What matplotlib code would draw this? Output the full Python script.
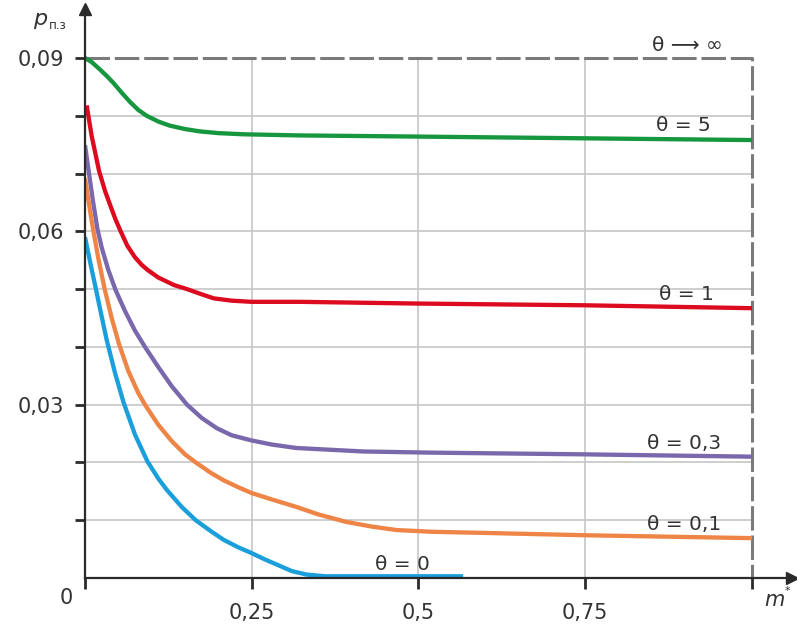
import numpy as np
import matplotlib
matplotlib.use("Agg")
import matplotlib.pyplot as plt

plt.rcParams['font.family'] = ['DejaVu Sans']

# curves: m* -> p_п.з
m_green = [0, 0.01, 0.0225, 0.0325, 0.0425, 0.055, 0.0675, 0.08, 0.0925, 0.11, 0.127, 0.15, 0.172,
           0.2, 0.237, 0.322, 0.5, 0.75, 1.0]
p_green = [0.0900, 0.0893, 0.0880, 0.0869, 0.0857, 0.0840, 0.0824, 0.0810, 0.0800, 0.0790, 0.0783,
           0.0777, 0.0773, 0.0770, 0.0768, 0.0766, 0.0764, 0.0761, 0.0758]

m_red = [0.0025, 0.01, 0.021, 0.03, 0.0385, 0.046, 0.0535, 0.0635, 0.075, 0.085, 0.094, 0.11, 0.1335,
         0.153, 0.175, 0.193, 0.22, 0.25, 0.322, 0.5, 0.75, 1.0]
p_red = [0.0818, 0.0765, 0.0705, 0.0670, 0.0643, 0.0620, 0.0600, 0.0575, 0.0555, 0.0542, 0.0533,
         0.0520, 0.0507, 0.0500, 0.0491, 0.0484, 0.0480, 0.0478, 0.0478, 0.0475, 0.0472, 0.0467]

m_purple = [0, 0.006, 0.012, 0.0185, 0.025, 0.035, 0.046, 0.06, 0.075, 0.091, 0.11, 0.13, 0.153,
            0.175, 0.198, 0.22, 0.25, 0.28, 0.317, 0.417, 0.517, 0.75, 1.0]
p_purple = [0.0749, 0.0700, 0.0652, 0.0605, 0.0572, 0.0533, 0.0498, 0.0462, 0.0428, 0.0398, 0.0365,
            0.0332, 0.0300, 0.0277, 0.0259, 0.0247, 0.0238, 0.0231, 0.0225, 0.0219, 0.0217, 0.0214, 0.0210]

m_orange = [0, 0.01, 0.02, 0.0295, 0.04, 0.051, 0.065, 0.08, 0.091, 0.11, 0.13, 0.15, 0.166, 0.19,
            0.208, 0.23, 0.25, 0.28, 0.317, 0.35, 0.392, 0.43, 0.467, 0.52, 0.6, 0.75, 1.0]
p_orange = [0.0692, 0.0618, 0.0553, 0.0500, 0.0450, 0.0405, 0.0358, 0.0320, 0.0298, 0.0265, 0.0237,
            0.0214, 0.0200, 0.0181, 0.0169, 0.0157, 0.0147, 0.0136, 0.0123, 0.0110, 0.0097, 0.0089,
            0.0083, 0.0080, 0.0078, 0.0074, 0.0069]

m_blue = [0, 0.008, 0.016, 0.024, 0.0325, 0.045, 0.0575, 0.075, 0.0935, 0.11, 0.123, 0.145, 0.166,
          0.19, 0.208, 0.23, 0.25, 0.27, 0.292, 0.31, 0.332, 0.36, 0.567]
p_blue = [0.0590, 0.0545, 0.0502, 0.0458, 0.0412, 0.0355, 0.0305, 0.0248, 0.0202, 0.0172, 0.0152,
          0.0123, 0.0100, 0.0080, 0.0066, 0.0053, 0.0043, 0.0032, 0.0021, 0.0012, 0.0006, 0.0003, 0.0003]

p_limit = 0.09  # theta -> inf

labels = ["θ ⟶ ∞", "θ = 5", "θ = 1", "θ = 0,3", "θ = 0,1", "θ = 0"]
label_x = [0.903, 0.897, 0.902, 0.898, 0.898, 0.476]
label_y = [0.0921, 0.0784, 0.0490, 0.0232, 0.0092, 0.0023]

x_ticks = [0, 0.25, 0.5, 0.75, 1.0]
x_ticklabels = ["", "0,25", "0,5", "0,75", ""]
y_ticks = [0.01, 0.02, 0.03, 0.04, 0.05, 0.06, 0.07, 0.08, 0.09]
y_ticklabels = ["", "", "0,03", "", "", "0,06", "", "", "0,09"]

txt = '#333333'
axc = '#2a2a2a'

fig = plt.figure(figsize=(7.97, 6.27), dpi=100)
ax = fig.add_axes([85 / 797, 49 / 627, 707 / 797, 569.1 / 627])
ax.set_xlim(0, 1.06)
ax.set_ylim(0, 0.0985)

# grid
ax.hlines(y_ticks[:-1], 0, 1, color='#c6c6c6', lw=1.2, zorder=1)
ax.vlines(x_ticks[1:-1], 0, p_limit, color='#c6c6c6', lw=1.2, zorder=1)

# limiting case, dashed frame
ax.plot([0, 1, 1], [p_limit, p_limit, 0], color='#7a7a7a', lw=2.2,
        dashes=(8, 1.6), zorder=2, clip_on=False)

lw = 3.1
style = dict(lw=lw, solid_capstyle='butt', solid_joinstyle='round', zorder=3)
ax.plot(m_green, p_green, color='#16963e', **style)
ax.plot(m_red, p_red, color='#dc0b1f', **style)
ax.plot(m_purple, p_purple, color='#7a68ac', **style)
ax.plot(m_orange, p_orange, color='#ee8446', **style)
ax.plot(m_blue, p_blue, color='#1b9fdb', **style)

for s, x, y in zip(labels, label_x, label_y):
    ax.text(x, y, s, ha='center', va='center', fontsize=14.5, color=txt, zorder=4)

# axes with arrows
for side in ['top', 'right']:
    ax.spines[side].set_visible(False)
for side in ['left', 'bottom']:
    ax.spines[side].set_color(axc)
    ax.spines[side].set_linewidth(1.6)
    ax.spines[side].set_zorder(5)
ax.plot(1, 0, marker='>', color=axc, markersize=9, transform=ax.transAxes, clip_on=False, zorder=6)
ax.plot(0, 1, marker='^', color=axc, markersize=9, transform=ax.transAxes, clip_on=False, zorder=6)

ax.set_xticks(x_ticks)
ax.set_xticklabels(x_ticklabels)
ax.set_yticks(y_ticks)
ax.set_yticklabels(y_ticklabels)
ax.tick_params(axis='x', direction='out', length=8, width=2, color=axc, pad=10,
               labelsize=15, labelcolor=txt)
ax.tick_params(axis='y', direction='out', length=7, width=2, color=axc, pad=8,
               labelsize=15, labelcolor=txt)

ax.text(-0.028, -0.0035, "0", ha='center', va='center', fontsize=15, color=txt, clip_on=False)
ax.text(1.033, -0.0038, "m", ha='center', va='center', fontsize=15, style='italic', color=txt, clip_on=False)
ax.text(1.053, -0.0022, "*", ha='center', va='center', fontsize=8, color=txt, clip_on=False)

ax.text(-0.068, 0.0968, "p", ha='center', va='center', fontsize=16, style='italic', color=txt, clip_on=False)
ax.text(-0.041, 0.0956, "п.з", ha='center', va='center', fontsize=8.5, color=txt, clip_on=False)

fig.savefig('out.png', dpi=100)
